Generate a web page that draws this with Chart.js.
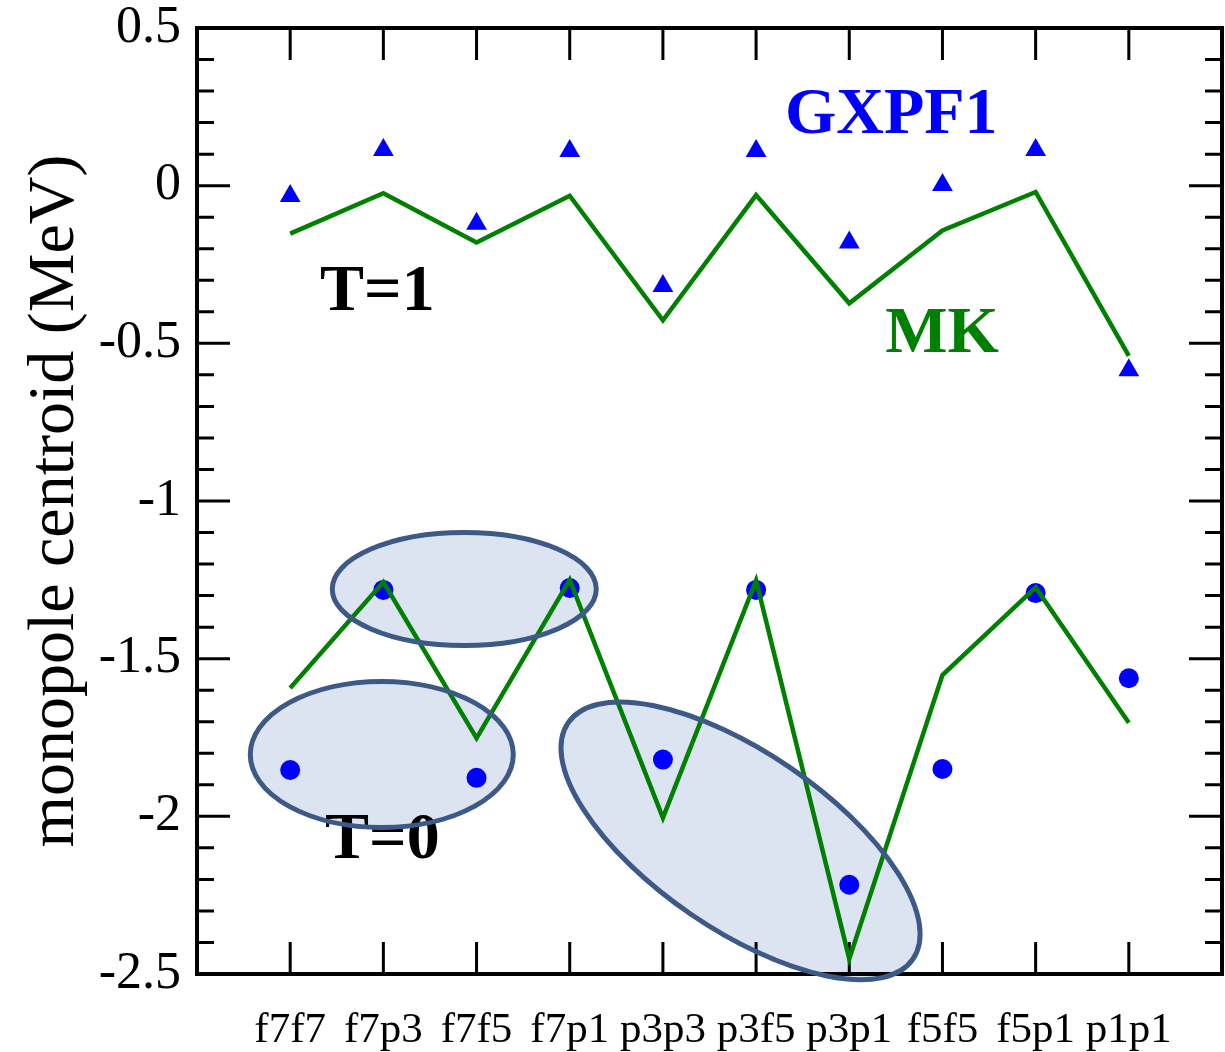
<!DOCTYPE html>
<html>
<head>
<meta charset="utf-8">
<script src="https://cdn.jsdelivr.net/npm/chart.js@4.4.1/dist/chart.umd.min.js"></script>
<style>
  html, body { margin: 0; padding: 0; background: #ffffff; }
  #wrap { width: 1225px; height: 1052px; }
</style>
</head>
<body>
<div id="wrap"><canvas id="c" width="1225" height="1052"></canvas></div>
<script>
// ---- data ----
const categories = ['f7f7', 'f7p3', 'f7f5', 'f7p1', 'p3p3', 'p3f5', 'p3p1', 'f5f5', 'f5p1', 'p1p1'];
const gxpf1T1 = [-0.033, 0.113, -0.121, 0.11, -0.318, 0.11, -0.18, 0.002, 0.113, -0.585];
const mkT1    = [-0.152, -0.024, -0.18, -0.032, -0.427, -0.03, -0.373, -0.142, -0.02, -0.54];
const gxpf1T0 = [-1.853, -1.282, -1.878, -1.276, -1.82, -1.282, -2.217, -1.85, -1.292, -1.562];
const mkT0    = [-1.593, -1.257, -1.752, -1.25, -2.005, -1.252, -2.452, -1.552, -1.274, -1.703];
const yTicks = [0.5, 0, -0.5, -1, -1.5, -2, -2.5];

const toXY = arr => arr.map((y, i) => ({ x: i, y: y }));

// ---- annotation helpers ----
const SERIF = '"Liberation Serif", "Times New Roman", serif';
const ellipses = [
  { cx: 1.868, cy: -1.279, rx: 132, ry: 56.5, rot: 0 },
  { cx: 0.983, cy: -1.804, rx: 131.5, ry: 73, rot: 0 },
  { cx: 4.833, cy: -2.078, rx: 209, ry: 88.5, rot: 34.4 }
];
const labels = [
  { text: 'GXPF1', x: 5.31, y: 0.167, color: '#0000ff' },
  { text: 'MK', x: 6.386, y: -0.527, color: '#008000' },
  { text: 'T=1', x: 0.32, y: -0.394, color: '#000000' },
  { text: 'T=0', x: 0.374, y: -2.132, color: '#000000' }
];

function ellipsePath(ctx, chart, e) {
  const xs = chart.scales.x, ys = chart.scales.y;
  const px = xs.getPixelForValue(e.cx), py = ys.getPixelForValue(e.cy);
  ctx.beginPath();
  ctx.ellipse(px, py, e.rx, e.ry, e.rot * Math.PI / 180, 0, Math.PI * 2);
}

const decor = {
  id: 'decor',
  beforeDatasetsDraw(chart) {
    const ctx = chart.ctx;
    const xs = chart.scales.x, ys = chart.scales.y;
    const a = chart.chartArea;
    ctx.save();
    // ellipse fills
    ctx.fillStyle = '#dce4f1';
    ellipses.forEach(e => { ellipsePath(ctx, chart, e); ctx.fill(); });
    // frame
    ctx.strokeStyle = '#000';
    ctx.lineWidth = 4;
    ctx.strokeRect(a.left, a.top, a.right - a.left, a.bottom - a.top);
    // y ticks (major 0.5, minor 0.1) on left and right, inward
    ctx.lineWidth = 3;
    for (let k = -25; k <= 5; k++) {
      const v = k / 10;
      const y = ys.getPixelForValue(v);
      const len = (k % 5 === 0) ? 33 : 17;
      ctx.beginPath();
      ctx.moveTo(a.left, y); ctx.lineTo(a.left + len, y);
      ctx.moveTo(a.right, y); ctx.lineTo(a.right - len, y);
      ctx.stroke();
    }
    // x ticks top and bottom
    categories.forEach((c, i) => {
      const x = xs.getPixelForValue(i);
      ctx.beginPath();
      ctx.moveTo(x, a.top); ctx.lineTo(x, a.top + 32);
      ctx.moveTo(x, a.bottom); ctx.lineTo(x, a.bottom - 32);
      ctx.stroke();
    });
    // text labels
    ctx.font = 'bold 66px ' + SERIF;
    ctx.textAlign = 'left';
    ctx.textBaseline = 'alphabetic';
    labels.forEach(l => {
      ctx.fillStyle = l.color;
      ctx.fillText(l.text, xs.getPixelForValue(l.x), ys.getPixelForValue(l.y));
    });
    ctx.restore();
  },
  afterDatasetsDraw(chart) {
    const ctx = chart.ctx;
    ctx.save();
    ctx.strokeStyle = '#3d5a87';
    ctx.lineWidth = 5;
    ellipses.forEach(e => { ellipsePath(ctx, chart, e); ctx.stroke(); });
    ctx.restore();
  }
};

function zeroPad(s) { s.paddingLeft = 0; s.paddingRight = 0; s.paddingTop = 0; s.paddingBottom = 0; }

new Chart(document.getElementById('c').getContext('2d'), {
  type: 'line',
  data: {
    datasets: [
      { label: 'MK T=1', data: toXY(mkT1), borderColor: '#008000', borderWidth: 4.5,
        pointRadius: 0, pointHoverRadius: 0, fill: false, tension: 0, order: 0 },
      { label: 'MK T=0', data: toXY(mkT0), borderColor: '#008000', borderWidth: 4.5,
        pointRadius: 0, pointHoverRadius: 0, fill: false, tension: 0, order: 0 },
      { label: 'GXPF1 T=1', data: toXY(gxpf1T1), showLine: false, pointStyle: 'triangle',
        pointRadius: 12, pointBackgroundColor: '#0000ff', pointBorderWidth: 0,
        borderColor: '#0000ff', backgroundColor: '#0000ff', order: 1 },
      { label: 'GXPF1 T=0', data: toXY(gxpf1T0), showLine: false, pointStyle: 'circle',
        pointRadius: 10, pointBackgroundColor: '#0000ff', pointBorderWidth: 0,
        borderColor: '#0000ff', backgroundColor: '#0000ff', order: 1 }
    ]
  },
  options: {
    responsive: false,
    animation: false,
    events: [],
    layout: { autoPadding: false, padding: { top: 28, right: 3, left: 0, bottom: 0 } },
    plugins: { legend: { display: false }, tooltip: { enabled: false } },
    scales: {
      x: {
        type: 'linear', min: -1, max: 10,
        afterBuildTicks: s => { s.ticks = categories.map((c, i) => ({ value: i })); },
        afterFit: s => { s.height = 78; zeroPad(s); },
        grid: { display: false, drawTicks: false },
        border: { display: false },
        ticks: {
          autoSkip: false, maxRotation: 0, minRotation: 0, padding: 31,
          color: '#000', font: { family: SERIF, size: 43 },
          callback: v => categories[v]
        }
      },
      y: {
        min: -2.5, max: 0.5,
        afterBuildTicks: s => { s.ticks = yTicks.map(v => ({ value: v })); },
        afterFit: s => { s.width = 197; zeroPad(s); },
        grid: { display: false, drawTicks: false },
        border: { display: false },
        ticks: {
          padding: 16, color: '#000', font: { family: SERIF, size: 52 },
          callback: v => String(Math.round(v * 10) / 10)
        },
        title: {
          display: true, text: 'monopole centroid (MeV)', color: '#000',
          font: { family: SERIF, size: 66 }, padding: { top: 16, bottom: 0 }
        }
      }
    }
  },
  plugins: [decor]
});
</script>
</body>
</html>
